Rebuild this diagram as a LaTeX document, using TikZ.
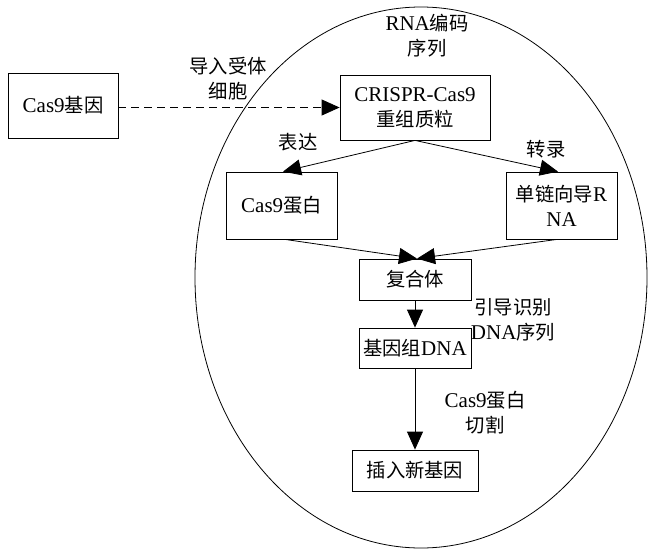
\documentclass[tikz,border=0pt]{standalone}
\usepackage{fontspec}
\setmainfont{Liberation Serif}
\newfontfamily\cjk{Noto Sans CJK SC}[Scale=0.92]
\newcommand\zh[1]{{\cjk #1}}
\usetikzlibrary{arrows.meta,calc}
\begin{document}
\begin{tikzpicture}[x=1pt,y=-1pt,
  every node/.style={font=\fontsize{21}{25}\selectfont, inner sep=0pt, align=center},
  box/.style={draw, line width=0.8pt},
  conn/.style={line width=0.8pt, -{Triangle[length=18pt,width=16pt]}},
  lbl/.style={}]
\useasboundingbox (0,0) rectangle (651,555);
\draw[line width=0.8pt] (421,277.5) ellipse [x radius=226, y radius=270.5];

\node[box, minimum width=110pt, minimum height=65pt] (gene) at (63,105.5) {Cas9\zh{基因}};
\node[box, minimum width=150pt, minimum height=65pt] (plasmid) at (415,107.5) {CRISPR-Cas9\\\zh{重组质粒}};
\node[box, minimum width=111pt, minimum height=67pt] (protein) at (281.5,205.5) {Cas9\zh{蛋白}};
\node[box, minimum width=111pt, minimum height=67pt] (sgrna) at (561.5,205.5) {\zh{单链向导}R\\NA};
\node[box, minimum width=112pt, minimum height=41pt] (complex) at (415,279.5) {\zh{复合体}};
\node[box, minimum width=112pt, minimum height=40pt] (dna) at (415,348) {\zh{基因组}DNA};
\node[box, minimum width=126pt, minimum height=41pt] (insert) at (415,470.5) {\zh{插入新基因}};

\node[lbl] (l1) at (228,78.5) {\zh{导入受体}\\\zh{细胞}};
\node[lbl] (l2) at (427,35.5) {RNA\zh{编码}\\\zh{序列}};
\node[lbl] (l3) at (298,142) {\zh{表达}};
\node[lbl] (l4) at (546,149) {\zh{转录}};
\node[lbl] (l5) at (513,319.5) {\zh{引导识别}\\DNA\zh{序列}};
\node[lbl] (l6) at (485,412.5) {Cas9\zh{蛋白}\\\zh{切割}};

\draw[conn, dash pattern=on 8pt off 5pt] (gene.east |- plasmid.west) -- (plasmid.west);
\draw[conn] (plasmid.south) -- ([xshift=1.5pt]protein.north);
\draw[conn] (plasmid.south) -- ([xshift=-3.5pt]sgrna.north);
\draw[conn] ([xshift=3.5pt]protein.south) -- ([xshift=2pt]complex.north);
\draw[conn] ([xshift=-4.5pt]sgrna.south) -- ([xshift=2pt]complex.north);
\draw[conn] (complex.south) -- (dna.north);
\draw[conn] (dna.south) -- (insert.north);
\end{tikzpicture}
\end{document}
